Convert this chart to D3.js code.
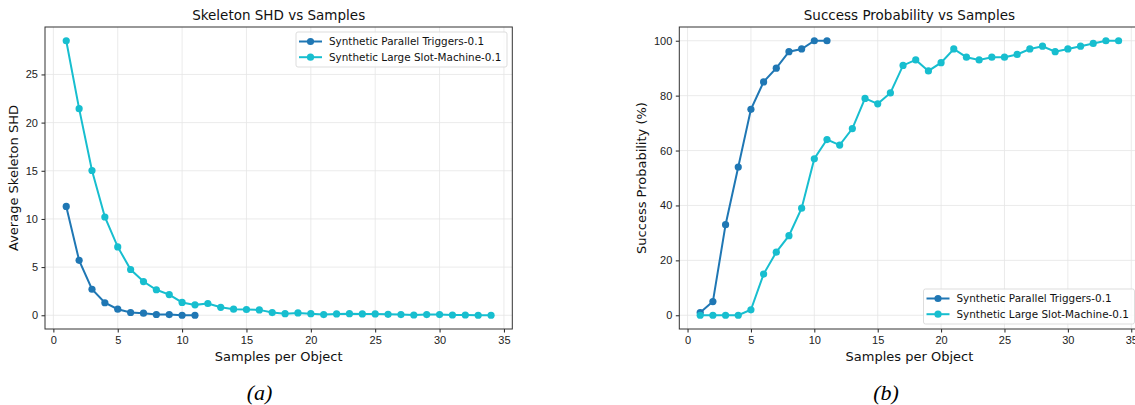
<!DOCTYPE html>
<html><head>
<meta charset="utf-8">
<script src="https://d3js.org/d3.v7.min.js"></script>
<style>
body { margin: 0; background: #fff; }
svg { display: block; font-family: "DejaVu Sans", sans-serif; }
.grid line { stroke: #e6e6e6; stroke-width: 0.8; }
.tick text { fill: #222; font-size: 11px; }
.tick line { stroke: #222; }
.caption { font-family: "Liberation Serif", "Times New Roman", serif; font-style: italic; font-size: 22px; }
</style>
</head>
<body>
<svg id="fig" width="1135" height="405"></svg>
<script>
// samples per object
const samplesParallel = d3.range(1, 12);
const samplesSlot = d3.range(1, 35);

// skeleton SHD
const shdParallel = [11.3, 5.7, 2.7, 1.3, 0.63, 0.29, 0.22, 0.08, 0.07, 0.0, 0.0];
const shdSlot = [28.5, 21.45, 15.03, 10.2, 7.1, 4.75, 3.5, 2.65, 2.15, 1.33, 1.08, 1.22, 0.83, 0.63, 0.6, 0.56,
  0.28, 0.17, 0.24, 0.17, 0.07, 0.14, 0.17, 0.14, 0.14, 0.1, 0.07, 0.03, 0.07, 0.07, 0.03, 0.03, 0.0, 0.0];

// success probability (%)
const succParallel = [1, 5, 33, 54, 75, 85, 90, 96, 97, 100, 100];
const succSlot = [0, 0, 0, 0, 2, 15, 23, 29, 39, 57, 64, 62, 68, 79, 77, 81, 91, 93, 89, 92, 97, 94, 93, 94, 94,
  95, 97, 98, 96, 97, 98, 99, 100, 100];

const seriesNames = ["Synthetic Parallel Triggers-0.1", "Synthetic Large Slot-Machine-0.1"];
const seriesColors = ["#1f77b4", "#17becf"];
const xTicks = [0, 5, 10, 15, 20, 25, 30, 35];

const svg = d3.select("#fig");

function panel(opt) {
    const g = svg.append("g");
    const x = d3.scaleLinear().domain([-0.65, 35.65]).range([opt.left, opt.right]);
    const y = d3.scaleLinear().domain(opt.yDomain).range([329, 27]);

    // grid
    const grid = g.append("g").attr("class", "grid");
    grid.selectAll("line.gx").data(xTicks).join("line")
        .attr("x1", d => x(d)).attr("x2", d => x(d)).attr("y1", 27).attr("y2", 329);
    grid.selectAll("line.gy").data(opt.yTicks).join("line")
        .attr("x1", opt.left).attr("x2", opt.right).attr("y1", d => y(d)).attr("y2", d => y(d));

    // axes
    g.append("g").attr("transform", "translate(0,329)")
        .call(d3.axisBottom(x).tickValues(xTicks).tickSize(3.5).tickPadding(3.5))
        .call(a => a.select(".domain").remove());
    g.append("g").attr("transform", "translate(" + opt.left + ",0)")
        .call(d3.axisLeft(y).tickValues(opt.yTicks).tickSize(3.5).tickPadding(3.5))
        .call(a => a.select(".domain").remove());

    // frame
    g.append("rect").attr("x", opt.left).attr("y", 27)
        .attr("width", opt.right - opt.left).attr("height", 302)
        .attr("fill", "none").attr("stroke", "#333").attr("stroke-width", 1);

    // lines
    const line = d3.line().x(d => x(d[0])).y(d => y(d[1]));
    opt.series.forEach((s, i) => {
        const pts = s.xs.map((v, j) => [v, s.ys[j]]);
        g.append("path").datum(pts).attr("d", line)
            .attr("fill", "none").attr("stroke", seriesColors[i]).attr("stroke-width", 2);
        g.selectAll("circle.s" + i).data(pts).join("circle")
            .attr("class", "s" + i)
            .attr("cx", d => x(d[0])).attr("cy", d => y(d[1])).attr("r", 3.6)
            .attr("fill", seriesColors[i]);
    });

    // titles
    const cx = (opt.left + opt.right) / 2;
    g.append("text").attr("x", cx).attr("y", 20).attr("text-anchor", "middle")
        .attr("font-size", 13.5).attr("fill", "#111").text(opt.title);
    g.append("text").attr("x", cx).attr("y", 361).attr("text-anchor", "middle")
        .attr("font-size", 13).attr("fill", "#111").text("Samples per Object");
    g.append("text").attr("transform", "translate(" + opt.yLabelX + ",178) rotate(-90)")
        .attr("text-anchor", "middle").attr("font-size", 13).attr("fill", "#111").text(opt.yLabel);

    // legend
    const lg = g.append("g").attr("transform", "translate(" + opt.legend[0] + "," + opt.legend[1] + ")");
    lg.append("rect").attr("width", 211).attr("height", 35).attr("rx", 2)
        .attr("fill", "#fff").attr("fill-opacity", 0.8).attr("stroke", "#ddd");
    seriesNames.forEach((name, i) => {
        const yy = 9.5 + i * 15.7;
        lg.append("line").attr("x1", 3).attr("x2", 26).attr("y1", yy).attr("y2", yy)
            .attr("stroke", seriesColors[i]).attr("stroke-width", 2);
        lg.append("circle").attr("cx", 14.5).attr("cy", yy).attr("r", 3.6).attr("fill", seriesColors[i]);
        lg.append("text").attr("x", 33).attr("y", yy).attr("dy", "0.35em")
            .attr("font-size", 10.4).attr("fill", "#111").text(name);
    });

    svg.append("text").attr("class", "caption").attr("x", opt.captionX).attr("y", 400)
        .attr("text-anchor", "middle").text(opt.caption);
}

panel({
    left: 45, right: 512.3, yDomain: [-1.425, 29.925], yTicks: [0, 5, 10, 15, 20, 25],
    title: "Skeleton SHD vs Samples", yLabel: "Average Skeleton SHD", yLabelX: 18,
    series: [{xs: samplesParallel, ys: shdParallel}, {xs: samplesSlot, ys: shdSlot}],
    legend: [296, 32], caption: "(a)", captionX: 259.5
});
panel({
    left: 679.3, right: 1139.5, yDomain: [-5, 105], yTicks: [0, 20, 40, 60, 80, 100],
    title: "Success Probability vs Samples", yLabel: "Success Probability (%)", yLabelX: 646,
    series: [{xs: samplesParallel, ys: succParallel}, {xs: samplesSlot, ys: succSlot}],
    legend: [923.5, 289], caption: "(b)", captionX: 886
});
</script>
</body>
</html>
